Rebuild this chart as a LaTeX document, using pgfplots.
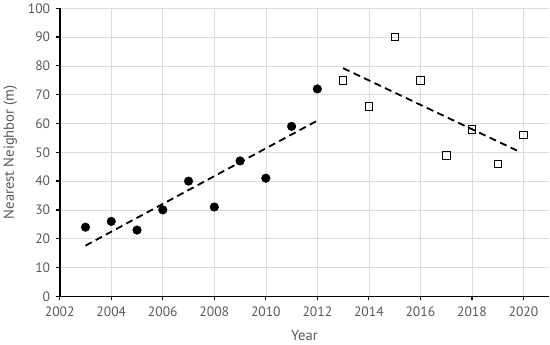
\documentclass[border=0pt]{standalone}
\usepackage{fontspec}
\setmainfont{PT Sans}
\usepackage{pgfplots}
\pgfplotsset{compat=1.18}
\definecolor{txt}{HTML}{595959}
\definecolor{grd}{HTML}{DDDDDD}
\begin{document}
\begin{tikzpicture}
\begin{axis}[
  scale only axis,
  width=486pt, height=286pt,
  xmin=2002, xmax=2021, ymin=0, ymax=100,
  xtick={2002,2004,...,2020},
  ytick={0,10,...,100},
  /pgf/number format/1000 sep={},
  /pgf/number format/assume math mode=true,
  axis x line*=bottom, axis y line*=left,
  axis line style={black, line width=1.6pt},
  every outer x axis line/.append style={-},
  every outer y axis line/.append style={-},
  tick align=outside,
  major tick length=4pt,
  tick style={black, line width=1.2pt},
  grid=major,
  major grid style={grd, line width=0.6pt},
  tick label style={font=\fontsize{13.5}{15}\selectfont, text=txt},
  xticklabel style={yshift=-3pt},
  yticklabel style={xshift=-2pt},
  label style={font=\fontsize{14.5}{16}\selectfont, text=txt},
  xlabel={Year}, ylabel={Nearest Neighbor (m)},
  xlabel style={yshift=-7pt},
  ylabel style={yshift=4pt},
  clip=false,
]
\addplot[only marks, mark=*, mark size=4.3pt, mark options={fill=black, draw=black}] coordinates {
(2003,24)(2004,26)(2005,23)(2006,30)(2007,40)(2008,31)(2009,47)(2010,41)(2011,59)(2012,72)};
\addplot[only marks, mark=square, mark size=3.7pt, mark options={draw=black, line width=0.7pt, fill=white}] coordinates {
(2013,75)(2014,66)(2015,90)(2016,75)(2017,49)(2018,58)(2019,46)(2020,56)};
\addplot[black, line width=1.8pt, dash pattern=on 7pt off 4.5pt] coordinates {(2003,17.6)(2012,61.0)};
\addplot[black, line width=1.8pt, dash pattern=on 7pt off 4.5pt] coordinates {(2013,79.2)(2019.8,50.4)};
\end{axis}
\end{tikzpicture}
\end{document}
